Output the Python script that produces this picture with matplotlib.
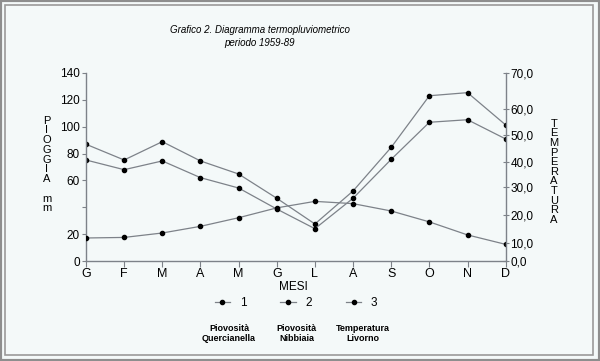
import matplotlib
matplotlib.use('Agg')
import matplotlib.pyplot as plt
import numpy as np
from matplotlib.patches import Rectangle

plt.rcParams['font.family'] = ['Liberation Sans', 'DejaVu Sans']

# Data
mesi = ['G', 'F', 'M', 'A', 'M', 'G', 'L', 'A', 'S', 'O', 'N', 'D']
pioggia_quercianella = [86.9, 75.2, 88.8, 74.5, 64.8, 46.8, 27.7, 52.2, 84.6, 122.9, 125.2, 101.2]
pioggia_nibbiaia = [75.2, 68.0, 74.5, 62.1, 54.4, 38.8, 24.2, 46.8, 75.7, 103.2, 105.1, 90.8]
temperatura_livorno = [11.7, 11.9, 13.5, 15.9, 19.0, 22.5, 24.8, 24.0, 21.4, 17.5, 12.8, 9.1]

left_ticks = [0, 20, 40, 60, 80, 100, 120, 140]
left_labels = ['0', '20', '', '60', '80', '100', '120', '140']
right_ticks = [0, 10, 20, 30, 40, 50, 60, 70]
right_labels = ['0,0', '10,0', '20,0', '30,0', '40,0', '50,0', '60,0', '70,0']
# the printed temperature axis is not evenly spaced: where each tick sits on the mm scale
right_pos_mm = [0, 13.8, 34.4, 55.4, 73.9, 93.5, 113.3, 140]

line_col = '#7d8289'
bg = '#f4f9f9'

fig = plt.figure(figsize=(6, 3.61), dpi=100, facecolor=bg)
ax = fig.add_axes([0.1433, 0.2762, 0.6995, 0.5224])
ax.set_facecolor('none')

x = np.arange(len(mesi))
kw = dict(color=line_col, lw=0.9, marker='o', markersize=3,
          markerfacecolor='black', markeredgecolor='black')
l1, = ax.plot(x, pioggia_quercianella, **kw)
l2, = ax.plot(x, pioggia_nibbiaia, **kw)

ax.set_xlim(0, 11)
ax.set_ylim(0, 140)
ax.set_xticks(x)
ax.set_xticklabels(mesi, fontsize=9)
ax.set_yticks(left_ticks)
ax.set_yticklabels(left_labels, fontsize=8.5)

ax2 = ax.twinx()
ax2.set_yscale('function', functions=(lambda v: np.interp(v, right_ticks, right_pos_mm),
                                      lambda v: np.interp(v, right_pos_mm, right_ticks)))
ax2.set_ylim(0, 70)
l3, = ax2.plot(x, temperatura_livorno, **kw)
ax2.set_yticks(right_ticks)
ax2.set_yticklabels(right_labels, fontsize=8.5)

for a in (ax, ax2):
    for s in a.spines.values():
        s.set_color(line_col)
        s.set_linewidth(1.0)
    a.spines['top'].set_visible(False)
    a.tick_params(colors='black', length=3, width=0.8, pad=1.5)
    a.tick_params(axis='both', color=line_col)
ax.spines['right'].set_visible(False)
ax2.spines['left'].set_visible(False)
ax2.spines['bottom'].set_visible(False)
ax.tick_params(axis='x', length=4, pad=1)
ax2.tick_params(axis='y', direction='inout', length=4)

# vertical axis titles
fig.text(47 / 600, 1 - 164.5 / 361, 'P\nI\nO\nG\nG\nI\nA\n\nm\nm', ha='center', va='center',
         fontsize=8, linespacing=0.97)
fig.text(554 / 600, 1 - 171.7 / 361, 'T\nE\nM\nP\nE\nR\nA\nT\nU\nR\nA', ha='center', va='center',
         fontsize=8, linespacing=0.95)

fig.text(260 / 600, 1 - 36.5 / 361, 'Grafico 2. Diagramma termopluviometrico\nperiodo 1959-89',
         ha='center', va='center', fontsize=7, style='italic', linespacing=1.3)

fig.text(293 / 600, 1 - 286.7 / 361, 'MESI', ha='center', va='center', fontsize=8.5)

fig.legend([l1, l2, l3], ['1', '2', '3'], loc='center', bbox_to_anchor=(296 / 600, 1 - 302.7 / 361),
           ncol=3, frameon=False, fontsize=8.5, handlelength=1.3, handletextpad=0.8,
           columnspacing=2.9, borderpad=0, borderaxespad=0)

for xx, txt in [(229, 'Piovosità\nQuercianella'), (296.7, 'Piovosità\nNibbiaia'),
                (363.3, 'Temperatura\nLivorno')]:
    fig.text(xx / 600, 1 - 333.5 / 361, txt, ha='center', va='center', fontsize=6.5,
             fontweight='bold', linespacing=1.05)

# scanned page frame
fig.patches.append(Rectangle((0, 0), 1, 1, transform=fig.transFigure, fill=False,
                             edgecolor='#8e8e8e', lw=3))
fig.patches.append(Rectangle((5 / 600, 6 / 361), 588 / 600, 350 / 361, transform=fig.transFigure,
                             fill=False, edgecolor='#9a9a9a', lw=1.2))

fig.savefig('out.png', dpi=100, facecolor=bg)
